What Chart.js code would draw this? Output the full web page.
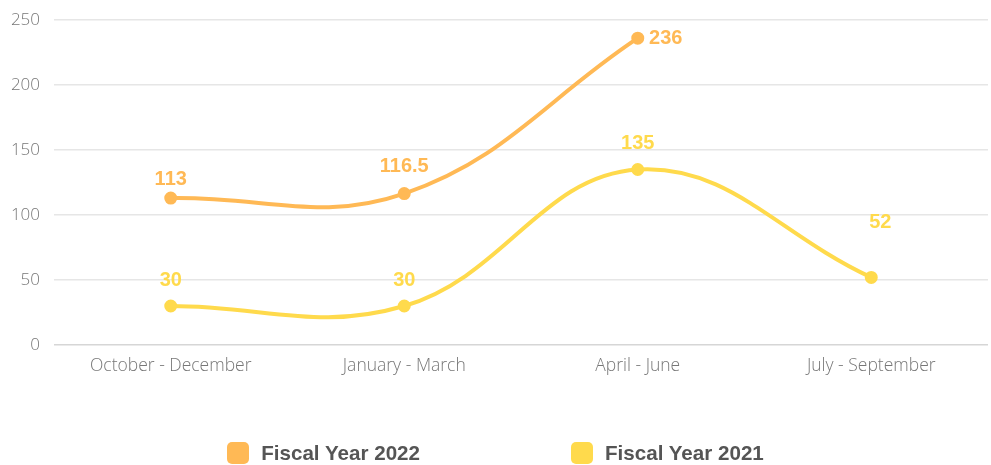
<!DOCTYPE html>
<html>
<head>
<meta charset="utf-8">
<script src="https://cdn.jsdelivr.net/npm/chart.js@4"></script>
<style>
  html, body { margin: 0; padding: 0; background: #fff; }
  #wrap { position: relative; width: 991px; height: 465px; overflow: hidden; }
  #legend { position: absolute; left: 0; right: 0; top: 441px; display: flex; justify-content: center; gap: 151px;
            font-family: "Liberation Sans", Arial, sans-serif; font-weight: bold; font-size: 20.6px; color: #555; }
  .item { display: flex; align-items: center; }
  .box { width: 22px; height: 22px; border-radius: 5px; margin-right: 12px; }
</style>
</head>
<body>
<div id="wrap">
  <canvas id="c" width="991" height="465"></canvas>
  <div id="legend"></div>
</div>
<script>
const categories = ["October - December", "January - March", "April - June", "July - September"];
const fy2022 = [113, 116.5, 236, null];
const fy2021 = [30, 30, 135, 52];
const yTicks = [0, 50, 100, 150, 200, 250];
const seriesNames = ["Fiscal Year 2022", "Fiscal Year 2021"];

const ORANGE = "#FFB955";
const YELLOW = "#FFDA4C";

// label placement relative to each point (style config)
const labelOffsets = [
  [[0, -19], [0, -27], [28, 0], [0, -24]],
  [[0, -26], [0, -26], [0, -26], [9, -55]]
];

const labelPlugin = {
  id: "pointLabels",
  afterDatasetsDraw(chart) {
    const ctx = chart.ctx;
    ctx.save();
    ctx.font = "bold 20px 'Liberation Sans', Arial, sans-serif";
    ctx.textAlign = "center";
    ctx.textBaseline = "middle";
    chart.data.datasets.forEach((ds, di) => {
      const meta = chart.getDatasetMeta(di);
      meta.data.forEach((pt, i) => {
        const v = ds.data[i];
        if (v === null || v === undefined) return;
        const off = labelOffsets[di][i];
        ctx.fillStyle = ds.borderColor;
        ctx.fillText(String(v), pt.x + off[0], pt.y + off[1]);
      });
    });
    ctx.restore();
  }
};

new Chart(document.getElementById("c"), {
  type: "line",
  data: {
    labels: categories,
    datasets: [
      { label: seriesNames[0], data: fy2022, borderColor: ORANGE, backgroundColor: ORANGE,
        pointBackgroundColor: ORANGE, pointBorderColor: ORANGE, borderWidth: 4, pointRadius: 4.5,
        tension: 0.4, fill: false, clip: false },
      { label: seriesNames[1], data: fy2021, borderColor: YELLOW, backgroundColor: YELLOW,
        pointBackgroundColor: YELLOW, pointBorderColor: YELLOW, borderWidth: 4, pointRadius: 4.5,
        tension: 0.4, fill: false, clip: false }
    ]
  },
  options: {
    responsive: false,
    animation: false,
    layout: { autoPadding: false, padding: { top: 20, right: 3, left: 0, bottom: 0 } },
    plugins: { legend: { display: false }, tooltip: { enabled: false } },
    scales: {
      x: {
        offset: true,
        grid: { display: false, drawTicks: false },
        border: { display: false },
        ticks: { color: "#777", padding: 11, font: { family: "'Open Sans'", size: 17.5, weight: 300 } },
        afterFit(s) { s.height = 120; s.paddingLeft = 0; s.paddingRight = 0; }
      },
      y: {
        min: 0, max: 250,
        afterBuildTicks(s) { s.ticks = yTicks.map(v => ({ value: v })); },
        grid: { color: (c) => c.tick && c.tick.value === 0 ? "#d6d6d6" : "#e6e6e6", lineWidth: 1.5, drawTicks: false },
        border: { display: false },
        ticks: { color: "#777", padding: 14, font: { family: "'Open Sans'", size: 17, weight: 300 } },
        afterFit(s) { s.width = 54; s.paddingTop = 0; s.paddingBottom = 0; }
      }
    }
  },
  plugins: [labelPlugin]
});

const legend = document.getElementById("legend");
[[seriesNames[0], ORANGE], [seriesNames[1], YELLOW]].forEach(([name, col]) => {
  const it = document.createElement("div");
  it.className = "item";
  const b = document.createElement("div");
  b.className = "box";
  b.style.background = col;
  const t = document.createElement("span");
  t.textContent = name;
  it.appendChild(b); it.appendChild(t);
  legend.appendChild(it);
});
</script>
</body>
</html>
